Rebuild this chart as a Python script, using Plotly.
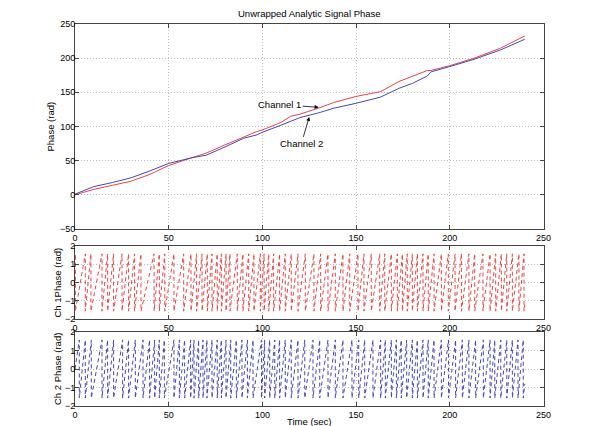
import numpy as np
import plotly.graph_objs as go

# unwrapped phase (rad)
time_pts = [0, 10, 20, 30, 40, 50, 62, 70, 80, 90, 97, 100, 110, 115, 120,
            130, 138, 150, 163, 173, 180, 188, 190, 200, 213, 227, 240]
ch1_unwrapped = [0, 8, 14, 20, 30, 43, 54, 61, 73, 85, 92.6, 95, 106, 115, 118,
                 127, 135, 144, 151, 166, 173, 182, 182, 189, 200, 214.5, 232.5]
ch2_unwrapped = [1, 12, 18, 25, 35, 46, 54, 58, 70, 82.8, 87.7, 91.6, 102, 108, 113,
                 120, 126.7, 134, 143, 156, 163, 174, 180, 187.7, 198.4, 212, 227.6]

# times (sec) where the wrapped phase jumps from +pi/2 back to -pi/2
ch1_wraps = [0.2, 5.5, 8.5, 14.4, 17.4, 20.6, 25.1, 28.6, 31.8, 35.2, 42.2, 45.0,
             47.9, 52.8, 58.0, 61.9, 64.9, 67.8, 70.6, 73.1, 75.9, 78.1, 80.6, 82.7,
             86.6, 89.6, 92.7, 95.5, 98.9, 100.9, 103.4, 106.0, 109.2, 112.2, 115.4,
             119.0, 122.9, 127.5, 131.1, 135.0, 138.9, 143.0, 146.6, 151.0, 154.2,
             158.1, 162.6, 165.3, 168.8, 172.0, 174.7, 177.3, 180.0, 182.7, 185.7,
             188.5, 191.6, 195.5, 199.2, 202.8, 206.2, 210.2, 213.3, 217.7, 221.5,
             224.5, 227.5, 230.4, 233.4, 236.9, 239.6]
ch2_wraps = [2.3, 5.5, 8.7, 14.4, 17.4, 20.6, 25.4, 28.6, 32.2, 36.3, 39.8, 42.5,
             45.0, 47.7, 52.8, 55.7, 58.5, 61.7, 63.5, 66.0, 68.3, 70.4, 73.1, 75.9,
             78.1, 80.6, 83.1, 86.1, 89.1, 92.0, 95.0, 99.5, 101.2, 103.9, 106.6,
             109.2, 112.2, 115.4, 119.0, 122.6, 127.0, 130.6, 135.0, 138.9, 143.0,
             147.8, 151.4, 154.6, 159.0, 163.1, 165.6, 168.8, 171.5, 174.1, 177.0,
             180.0, 182.7, 185.7, 188.5, 191.6, 195.5, 199.3, 203.1, 206.7, 210.2,
             213.8, 217.9, 221.5, 224.0, 227.2, 230.4, 233.4, 236.4, 239.2]
# wrapped phase at the first and last sample
ch1_start, ch1_end = 1.3, -1.2
ch2_start, ch2_end = 0.0, -0.8

WRAP = np.pi / 2
RED = 'rgb(228,70,70)'
BLUE = 'rgb(70,70,180)'
FONT = 'Liberation Sans, Arial, sans-serif'

# the page body has an 8px margin, so the figure is a bit smaller than the window
PAD = 8
W, H = 600 - PAD, 426 - PAD


def px(x):
    return (x - PAD) / W


def py(y):
    return 1 - (y - PAD) / H


def sawtooth(wraps, start, end):
    ''' vertices of the wrapped phase from its jump times '''
    x, y = [time_pts[0]], [start]
    for w in wraps:
        x += [w, w]
        y += [WRAP, -WRAP]
    x.append(time_pts[-1])
    y.append(end)
    return x, y


def axis(domain, rng, dtick, anchor, standoff=0):
    return {
        'domain': domain,
        'range': rng,
        'dtick': dtick,
        'anchor': anchor,
        'showgrid': True,
        'gridcolor': '#bdbdbd',
        'griddash': '1px,2px',
        'gridwidth': 1,
        'zeroline': False,
        'showline': True,
        'linecolor': '#444',
        'linewidth': 1,
        'mirror': 'ticks',
        'ticks': 'inside',
        'ticklen': 4,
        'tickcolor': '#444',
        'ticklabelstandoff': standoff,
        'tickfont': {'size': 9, 'color': 'black'},
        'automargin': False,
    }


c1x, c1y = sawtooth(ch1_wraps, ch1_start, ch1_end)
c2x, c2y = sawtooth(ch2_wraps, ch2_start, ch2_end)

data = [
    go.Scatter(x=time_pts, y=ch1_unwrapped, mode='lines', name='Channel 1',
               line={'color': RED, 'width': 1}, xaxis='x', yaxis='y'),
    go.Scatter(x=time_pts, y=ch2_unwrapped, mode='lines', name='Channel 2',
               line={'color': BLUE, 'width': 1}, xaxis='x', yaxis='y'),
    go.Scatter(x=c1x, y=c1y, mode='lines', name='Ch 1',
               line={'color': RED, 'width': 1, 'dash': '4px,3px'},
               xaxis='x2', yaxis='y2'),
    go.Scatter(x=c2x, y=c2y, mode='lines', name='Ch 2',
               line={'color': BLUE, 'width': 1, 'dash': '4px,3px'},
               xaxis='x3', yaxis='y3'),
]

xdom = [px(75), px(543.5)]
top = [py(229), py(24)]
mid = [py(319), py(246)]
bot = [py(406), py(332)]

small = {'size': 9.5, 'color': 'black'}
centered = {'xref': 'paper', 'yref': 'paper', 'xanchor': 'center',
            'yanchor': 'middle', 'showarrow': False, 'font': small}
annotations = [
    dict(text='Unwrapped Analytic Signal Phase', x=sum(xdom) / 2, y=py(14), **centered),
    dict(text='Phase (rad)', x=px(50), y=sum(top) / 2, textangle=-90, **centered),
    dict(text='Ch 1Phase (rad)', x=px(57), y=sum(mid) / 2, textangle=-90, **centered),
    dict(text='Ch 2 Phase (rad)', x=px(57), y=sum(bot) / 2, textangle=-90, **centered),
    dict(text='Time (sec)', x=sum(xdom) / 2, y=py(421), **centered),
    dict(text='Channel 1', x=130, y=128, xref='x', yref='y', ax=-39, ay=-3,
         showarrow=True, arrowhead=2, arrowsize=1, arrowwidth=0.8, arrowcolor='black',
         font=small),
    dict(text='Channel 2', x=125, y=114, xref='x', yref='y', ax=-8, ay=27,
         showarrow=True, arrowhead=2, arrowsize=1, arrowwidth=0.8, arrowcolor='black',
         font=small),
]

layout = go.Layout(
    width=W,
    height=H,
    margin={'l': 0, 'r': 0, 't': 0, 'b': 0},
    paper_bgcolor='white',
    plot_bgcolor='white',
    showlegend=False,
    font={'family': FONT, 'size': 9.5, 'color': 'black'},
    xaxis=axis(xdom, [0, 250], 50, 'y', 0),
    yaxis=axis(top, [-50, 250], 50, 'x', -3),
    xaxis2=axis(xdom, [0, 250], 50, 'y2', 0),
    yaxis2=axis(mid, [-2, 2], 1, 'x2', -3),
    xaxis3=axis(xdom, [0, 250], 50, 'y3', 0),
    yaxis3=axis(bot, [-2, 2], 1, 'x3', -3),
    annotations=annotations,
)

fig = go.Figure(data=data, layout=layout)
fig.write_html("out.html")
